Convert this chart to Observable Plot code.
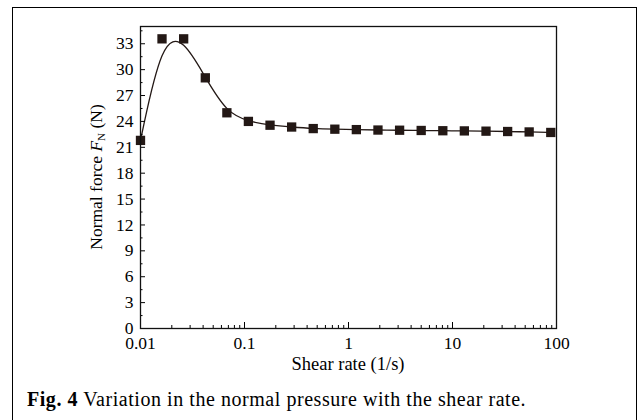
<!DOCTYPE html>
<html>
<head>
<meta charset="utf-8">
<script src="https://cdn.jsdelivr.net/npm/d3@7"></script>
<script src="https://cdn.jsdelivr.net/npm/@observablehq/plot@0.6"></script>
<style>
  html, body { margin: 0; padding: 0; background: #fff; }
  #page { position: relative; width: 637px; height: 420px; overflow: hidden; }
  #box { position: absolute; left: 12px; top: 7px; width: 625px; height: 440px; box-sizing: border-box; border: 1.5px solid #000; }
  #chart { position: absolute; left: 0; top: 0; }
  #caption { position: absolute; left: 27px; top: 388px; font-family: "Liberation Serif", serif; font-size: 20px; letter-spacing: 0.55px; color: #000; white-space: nowrap; }
</style>
</head>
<body>
<div id="page">
  <div id="box"></div>
  <div id="chart"></div>
  <div id="caption"><b>Fig. 4</b> Variation in the normal pressure with the shear rate.</div>
</div>
<script>
// Data
const shearRate = [0.01, 0.0161, 0.026, 0.042, 0.0677, 0.109, 0.176, 0.284, 0.458, 0.739,
                   1.19, 1.92, 3.10, 5.0, 8.07, 13.0, 21.0, 33.9, 54.6, 88.1];
const normalForce = [21.8, 33.57, 33.57, 29.05, 25.0, 24.0, 23.56, 23.35, 23.17, 23.1,
                     23.05, 23.0, 22.98, 22.95, 22.92, 22.9, 22.87, 22.83, 22.78, 22.72];
const xMajorTicks = [0.01, 0.1, 1, 10, 100];
const xTickLabels = ["0.01", "0.1", "1", "10", "100"];
const xMinorTicks = [];
for (const d of [0.01, 0.1, 1, 10]) for (let m = 2; m <= 9; m++) xMinorTicks.push(+(d * m).toPrecision(3));
const yMajorTicks = [0, 3, 6, 9, 12, 15, 18, 21, 24, 27, 30, 33];
const yMinorTicks = [1.5, 4.5, 7.5, 10.5, 13.5, 16.5, 19.5, 22.5, 25.5, 28.5, 31.5, 34.5];
const xLabel = "Shear rate (1/s)";

const data = shearRate.map((x, i) => ({x, y: normalForce[i]}));
const ink = "#231815";

const W = 637, H = 375, mL = 140, mR = 81, mT = 26, mB = 47;

const plot = Plot.plot({
  width: W, height: H,
  marginLeft: mL, marginRight: mR, marginTop: mT, marginBottom: mB,
  style: {fontFamily: "Liberation Serif, serif", fontSize: "17.5px", color: "#000", background: "transparent"},
  x: {type: "log", domain: [0.01, 100]},
  y: {domain: [0, 35]},
  marks: [
    Plot.line(data, {x: "x", y: "y", curve: "basis", stroke: ink, strokeWidth: 1.3}),
    Plot.dot(data, {x: "x", y: "y", symbol: "square", r: 5.25, fill: ink, stroke: "none"}),
    Plot.axisX(xMajorTicks, {tickSize: 0, tickPadding: 8.5, tickFormat: d => xTickLabels[xMajorTicks.indexOf(d)], label: null, fontSize: 17.5}),
    Plot.axisX(xMajorTicks, {tickSize: -6, text: null, label: null}),
    Plot.axisX(xMinorTicks, {tickSize: -3, text: null, label: null}),
    Plot.axisY(yMajorTicks, {tickSize: 0, tickPadding: 7, label: null, fontSize: 17.5}),
    Plot.axisY(yMajorTicks, {tickSize: -5, text: null, label: null}),
    Plot.axisY(yMinorTicks, {tickSize: -2.5, text: null, label: null}),
    Plot.frame({stroke: "#111", strokeWidth: 1.3})
  ]
});
document.getElementById("chart").appendChild(plot);

const svg = d3.select(plot);
// x-axis title
svg.append("text")
  .attr("x", (mL + (W - mR)) / 2)
  .attr("y", 370)
  .attr("text-anchor", "middle")
  .attr("font-family", "Liberation Serif, serif")
  .attr("font-size", 18.5)
  .attr("fill", "#000")
  .text(xLabel);
// y-axis title with italic F and subscript N
const yl = svg.append("text")
  .attr("transform", `translate(102,${(mT + (H - mB)) / 2}) rotate(-90)`)
  .attr("text-anchor", "middle")
  .attr("font-family", "Liberation Serif, serif")
  .attr("font-size", 17.5)
  .attr("fill", "#000");
yl.append("tspan").text("Normal force ");
yl.append("tspan").attr("font-style", "italic").text("F");
yl.append("tspan").attr("font-size", 11).attr("dy", 3).text("N");
yl.append("tspan").attr("dy", -3).text(" (N)");
</script>
</body>
</html>
